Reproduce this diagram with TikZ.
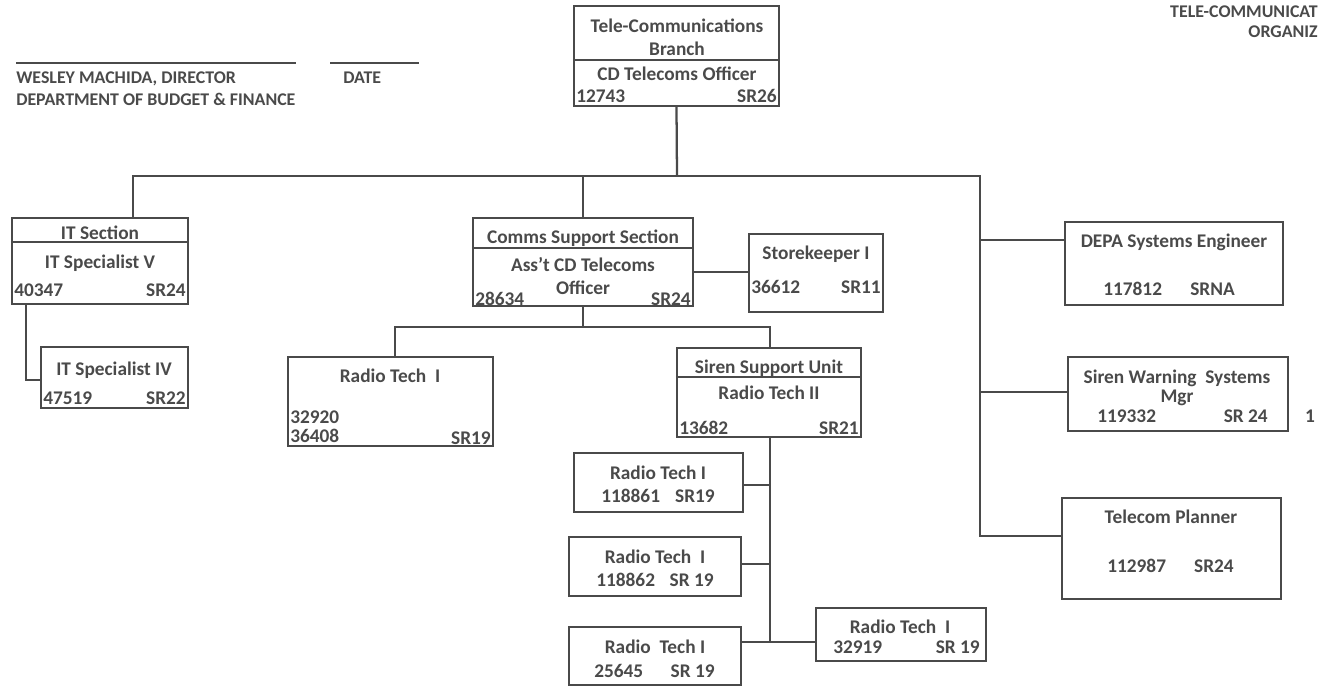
\documentclass[tikz,border=0pt]{standalone}
\usepackage{fontspec}
\setmainfont{Carlito}
\usetikzlibrary{fit}
\definecolor{ink}{HTML}{4A4A4A}
\begin{document}
\begin{tikzpicture}[x=0.75pt,y=-0.75pt,
  ln/.style={draw=ink,line width=1.7pt},
  box/.style={draw=ink,line width=1.7pt,inner sep=0pt,fit={#1}},
  txt/.style={font=\bfseries\fontsize{14.5}{16}\selectfont,text=ink,inner sep=0pt,anchor=base},
  tl/.style={txt,anchor=base west},
  tr/.style={txt,anchor=base east},
  hd/.style={font=\bfseries\fontsize{13.4}{15}\selectfont,text=ink,inner sep=0pt,anchor=base west},
  hr/.style={hd,anchor=base east}]
\useasboundingbox (0,0) rectangle (1318,687);
% header
\draw[ln,line width=1.3pt] (16,63) -- (296,63);
\draw[ln,line width=1.3pt] (330,63) -- (419,63);
\node[hd] (h1) at (16,83) {WESLEY MACHIDA, DIRECTOR};
\node[hd] (h2) at (343,83) {DATE};
\node[hd] (h3) at (16,105) {DEPARTMENT OF BUDGET \& FINANCE};
\node[hr] (h4) at (1318,17) {TELE-COMMUNICAT};
\node[hr] (h5) at (1318,37) {ORGANIZ};
% boxes
\node[box={(574,6) (779,106)}] (T) {};
\node[box={(12,218) (188,304)}] (I1) {};
\node[box={(41,347) (188,408)}] (I2) {};
\node[box={(473,218) (693,306)}] (C) {};
\node[box={(749,234) (883,312)}] (S) {};
\node[box={(288,357) (493,446)}] (R1) {};
\node[box={(677,348) (861,437)}] (SSU) {};
\node[box={(574,453) (743,512)}] (RA) {};
\node[box={(569,537) (741,596)}] (RB) {};
\node[box={(569,627) (741,685)}] (RC) {};
\node[box={(816,608) (986,661)}] (RD) {};
\node[box={(1065,222) (1283,305)}] (D) {};
\node[box={(1068,357) (1288,431)}] (SW) {};
\node[box={(1062,498) (1281,599)}] (TP) {};
% dividers
\draw[ln] (T.west |- 0,60) -- (T.east |- 0,60);
\draw[ln] (I1.west |- 0,242) -- (I1.east |- 0,242);
\draw[ln] (C.west |- 0,248) -- (C.east |- 0,248);
\draw[ln] (SSU.west |- 0,377) -- (SSU.east |- 0,377);
% texts
\node[txt] (t1) at (677,32) {Tele-Communications};
\node[txt] (t2) at (677,55) {Branch};
\node[txt] (t3) at (677,80) {CD Telecoms Officer};
\node[tl] (t4) at (576,102) {12743};
\node[tr] (t5) at (777,102) {SR26};
\node[txt] (i1) at (100,239) {IT Section};
\node[txt] (i2) at (100,268) {IT Specialist V};
\node[tl] (i3) at (14,296) {40347};
\node[tr] (i4) at (186,296) {SR24};
\node[txt] (i5) at (114,375) {IT Specialist IV};
\node[tl] (i6) at (43,404) {47519};
\node[tr] (i7) at (186,404) {SR22};
\node[txt] (c1) at (583,243) {Comms Support Section};
\node[txt] (c2) at (583,271) {Ass't CD Telecoms};
\node[txt] (c3) at (583,294) {Officer};
\node[tl] (c4) at (475,305) {28634};
\node[tr] (c5) at (691,305) {SR24};
\node[txt] (s1) at (816,259) {Storekeeper I};
\node[tl] (s2) at (751,293) {36612};
\node[tr] (s3) at (881,293) {SR11};
\node[txt] (r1) at (390,382) {Radio Tech\ \ I};
\node[tl] (r2) at (290,423) {32920};
\node[tl] (r3) at (290,442) {36408};
\node[tr] (r4) at (491,444) {SR19};
\node[txt] (u1) at (769,373) {Siren Support Unit};
\node[txt] (u2) at (769,399) {Radio Tech II};
\node[tl] (u3) at (679,434) {13682};
\node[tr] (u4) at (859,434) {SR21};
\node[txt] (a1) at (658,479) {Radio Tech I};
\node[tl] (a2) at (601,502) {118861};
\node[tr] (a3) at (715,502) {SR19};
\node[txt] (b1) at (655,563) {Radio Tech\ \ I};
\node[tl] (b2) at (596,586) {118862};
\node[tr] (b3) at (714,586) {SR 19};
\node[txt] (e1) at (655,653) {Radio\ \ Tech I};
\node[tl] (e2) at (594,677) {25645};
\node[tr] (e3) at (715,677) {SR 19};
\node[txt] (d1) at (900,633) {Radio Tech\ \ I};
\node[tl] (d2) at (833,653) {32919};
\node[tr] (d3) at (980,653) {SR 19};
\node[txt] (p1) at (1174,247) {DEPA Systems Engineer};
\node[tl] (p2) at (1103,295) {117812};
\node[tr] (p3) at (1235,295) {SRNA};
\node[txt] (w1) at (1177,383) {Siren Warning\ \ Systems};
\node[txt] (w2) at (1177,402) {Mgr};
\node[tl] (w3) at (1097,422) {119332};
\node[tr] (w4) at (1268,422) {SR 24};
\node[txt] (w5) at (1310,422) {1};
\node[txt] (q1) at (1171,523) {Telecom Planner};
\node[tl] (q2) at (1107,572) {112987};
\node[tr] (q3) at (1234,572) {SR24};
% connectors
\coordinate (busL) at (133,176);
\coordinate (busM) at (677,176);
\coordinate (busR) at (980,176);
\draw[ln] (T.south) -- (busM);
\draw[ln] (busL |- I1.north) -- (busL) -- (busR) -- (busR |- 0,536) -- (TP.west |- 0,536);
\draw[ln] (busR |- 0,240) -- (D.west |- 0,240);
\draw[ln] (busR |- 0,392) -- (SW.west |- 0,392);
\draw[ln] (C.north) -- (C.north |- busM);
\coordinate (iv) at (26,380);
\draw[ln] (iv |- I1.south) -- (iv) -- (I2.west |- iv);
\draw[ln] (C.east |- 0,272) -- (S.west |- 0,272);
\coordinate (cb) at (583,327);
\coordinate (cL) at (395,327);
\coordinate (cR) at (770,327);
\draw[ln] (C.south) -- (cb);
\draw[ln] (R1.north -| cL) -- (cL) -- (cR) -- (SSU.north -| cR);
\coordinate (sv) at (770,642);
\draw[ln] (SSU.south -| sv) -- (sv) -- (RD.west |- sv);
\draw[ln] (RA.east |- 0,485) -- (sv |- 0,485);
\draw[ln] (RB.east |- 0,564) -- (sv |- 0,564);
\draw[ln] (RC.east |- sv) -- (sv);
\end{tikzpicture}
\end{document}
